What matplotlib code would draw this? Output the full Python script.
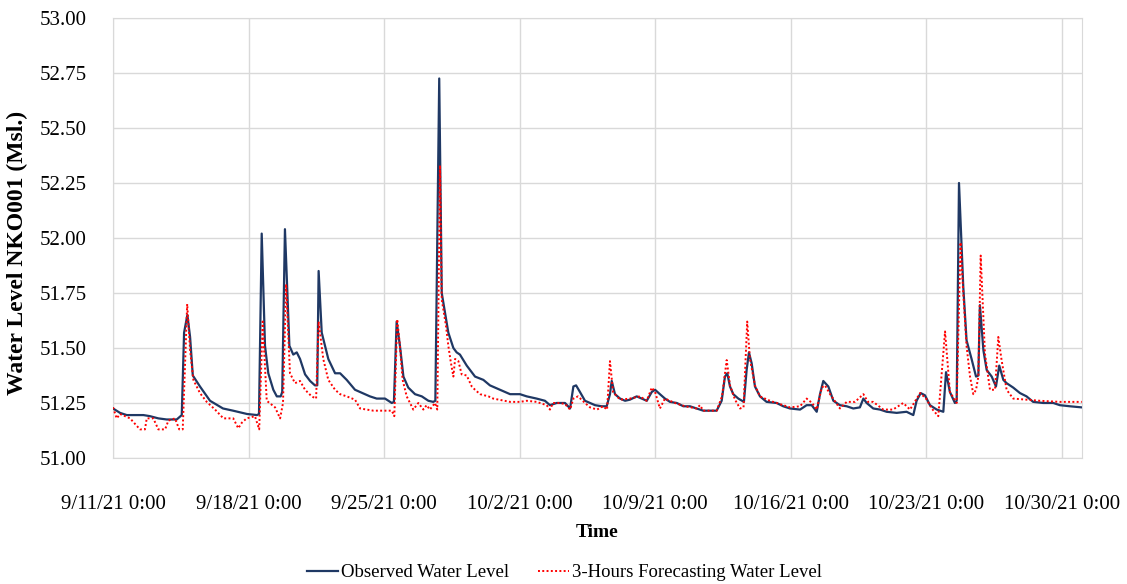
import matplotlib.pyplot as plt

plt.rcParams['font.family'] = ['Liberation Serif', 'DejaVu Serif']

# days since 9/11/21 0:00, water level (Msl.)
obs_days = [0.00, 0.36, 0.71, 1.05, 1.57, 1.91, 2.34, 2.77, 3.29, 3.55, 3.67, 3.84, 3.98, 4.12,
            4.49, 5.01, 5.68, 6.20, 6.92, 7.44, 7.54, 7.68, 7.85, 8.02, 8.28, 8.46, 8.66, 8.74,
            8.88, 9.11, 9.31, 9.49, 9.66, 9.92, 10.18, 10.43, 10.55, 10.62, 10.78, 11.12, 11.47,
            11.73, 12.07, 12.50, 12.76, 13.27, 13.62, 14.05, 14.40, 14.51, 14.65, 14.82, 15.00,
            15.25, 15.60, 15.95, 16.29, 16.54, 16.65, 16.85, 16.98, 17.15, 17.32, 17.58, 17.75,
            17.92, 18.27, 18.70, 19.13, 19.47, 19.99, 20.51, 21.02, 21.37, 21.88, 22.31, 22.57,
            22.92, 23.35, 23.61, 23.78, 23.92, 24.12, 24.38, 24.64, 24.90, 25.24, 25.50, 25.67,
            25.76, 25.93, 26.19, 26.45, 26.70, 27.05, 27.31, 27.57, 27.83, 28.00, 28.25, 28.51,
            28.77, 29.12, 29.46, 29.80, 30.15, 30.49, 30.84, 31.18, 31.44, 31.61, 31.73, 31.87,
            32.04, 32.30, 32.59, 32.73, 32.85, 32.99, 33.16, 33.42, 33.76, 34.28, 34.62, 34.97,
            35.49, 35.83, 36.09, 36.35, 36.52, 36.69, 36.95, 37.21, 37.55, 37.90, 38.24, 38.58,
            38.76, 38.93, 39.27, 39.62, 39.96, 40.48, 40.99, 41.34, 41.51, 41.72, 41.94, 42.20,
            42.55, 42.89, 43.03, 43.23, 43.49, 43.58, 43.70, 43.78, 43.92, 44.09, 44.35, 44.58,
            44.70, 44.78, 44.96, 45.13, 45.39, 45.61, 45.78, 45.99, 46.16, 46.50, 46.85, 47.19,
            47.53, 48.05, 48.57, 48.91, 49.43, 50.04]
obs_level = [51.225, 51.205, 51.195, 51.195, 51.195, 51.19, 51.18, 51.175, 51.175, 51.195, 51.57,
             51.65, 51.55, 51.375, 51.325, 51.26, 51.225, 51.215, 51.20, 51.195, 51.20, 52.02,
             51.51, 51.385, 51.31, 51.28, 51.28, 51.30, 52.04, 51.51, 51.47, 51.48, 51.45, 51.38,
             51.35, 51.33, 51.33, 51.85, 51.57, 51.45, 51.385, 51.385, 51.355, 51.31, 51.30,
             51.28, 51.27, 51.27, 51.25, 51.255, 51.62, 51.51, 51.37, 51.32, 51.29, 51.28, 51.26,
             51.255, 51.26, 52.725, 51.75, 51.66, 51.57, 51.50, 51.48, 51.47, 51.42, 51.37,
             51.355, 51.33, 51.31, 51.29, 51.29, 51.28, 51.27, 51.26, 51.24, 51.25, 51.25,
             51.225, 51.325, 51.33, 51.30, 51.26, 51.25, 51.24, 51.235, 51.235, 51.29, 51.35,
             51.29, 51.27, 51.26, 51.265, 51.28, 51.27, 51.26, 51.30, 51.31, 51.29, 51.27,
             51.255, 51.25, 51.235, 51.235, 51.225, 51.215, 51.215, 51.215, 51.26, 51.37,
             51.385, 51.325, 51.29, 51.27, 51.255, 51.40, 51.48, 51.43, 51.325, 51.28, 51.255,
             51.25, 51.235, 51.225, 51.22, 51.24, 51.24, 51.21, 51.29, 51.35, 51.325, 51.26,
             51.24, 51.235, 51.225, 51.23, 51.27, 51.25, 51.225, 51.22, 51.21, 51.205, 51.21,
             51.195, 51.26, 51.295, 51.285, 51.24, 51.22, 51.21, 51.39, 51.30, 51.25, 51.26,
             52.25, 52.08, 51.78, 51.535, 51.45, 51.37, 51.375, 51.695, 51.49, 51.40, 51.37,
             51.325, 51.42, 51.355, 51.34, 51.32, 51.295, 51.28, 51.255, 51.25, 51.25, 51.24,
             51.235, 51.23]

fc_days = [0.00, 0.19, 0.36, 0.88, 1.39, 1.65, 1.74, 2.08, 2.34, 2.69, 2.86, 3.20, 3.42, 3.60,
           3.83, 3.98, 4.15, 4.49, 4.84, 5.27, 5.70, 6.21, 6.47, 6.65, 6.90, 7.33, 7.55, 7.73,
           7.94, 8.37, 8.63, 8.78, 8.94, 9.14, 9.40, 9.66, 9.92, 10.26, 10.49, 10.62, 10.86,
           11.12, 11.47, 11.73, 12.07, 12.50, 12.76, 13.45, 13.96, 14.40, 14.53, 14.68, 14.82,
           14.96, 15.17, 15.34, 15.51, 15.77, 16.03, 16.20, 16.37, 16.63, 16.75, 16.89, 16.98,
           17.20, 17.32, 17.44, 17.58, 17.67, 17.84, 18.01, 18.27, 18.53, 18.70, 18.96, 19.39,
           19.64, 20.51, 21.02, 21.37, 21.88, 22.40, 22.57, 22.73, 23.09, 23.35, 23.61, 23.78,
           24.02, 24.38, 24.64, 25.00, 25.31, 25.52, 25.67, 25.83, 26.19, 26.70, 27.22, 27.57,
           27.83, 28.00, 28.25, 28.51, 29.03, 29.55, 30.15, 30.32, 30.49, 31.18, 31.46, 31.70,
           31.87, 32.13, 32.39, 32.57, 32.76, 32.90, 33.16, 33.42, 33.93, 34.45, 34.97, 35.49,
           35.83, 36.11, 36.35, 36.61, 36.78, 37.04, 37.55, 37.90, 38.33, 38.76, 39.00, 39.27,
           39.79, 40.29, 40.82, 41.17, 41.69, 42.00, 42.29, 42.63, 42.98, 43.23, 43.58, 43.78,
           43.92, 44.09, 44.27, 44.44, 44.58, 44.70, 44.82, 45.04, 45.30, 45.56, 45.73, 45.90,
           46.16, 46.50, 47.19, 47.88, 48.91, 50.04]
fc_level = [51.23, 51.18, 51.20, 51.18, 51.13, 51.13, 51.18, 51.18, 51.13, 51.13, 51.17, 51.18,
            51.13, 51.13, 51.70, 51.49, 51.355, 51.295, 51.255, 51.22, 51.18, 51.18, 51.135,
            51.16, 51.18, 51.19, 51.13, 51.62, 51.26, 51.23, 51.18, 51.25, 51.79, 51.385, 51.34,
            51.35, 51.31, 51.28, 51.27, 51.62, 51.45, 51.355, 51.31, 51.29, 51.28, 51.265,
            51.225, 51.215, 51.215, 51.215, 51.19, 51.63, 51.51, 51.355, 51.28, 51.25, 51.22,
            51.25, 51.22, 51.24, 51.22, 51.25, 51.22, 52.33, 51.72, 51.60, 51.51, 51.44, 51.37,
            51.45, 51.44, 51.38, 51.375, 51.325, 51.31, 51.29, 51.28, 51.27, 51.255, 51.255,
            51.26, 51.255, 51.24, 51.22, 51.25, 51.25, 51.245, 51.22, 51.27, 51.28, 51.25, 51.23,
            51.22, 51.235, 51.22, 51.44, 51.30, 51.265, 51.27, 51.28, 51.26, 51.32, 51.30,
            51.225, 51.27, 51.25, 51.235, 51.225, 51.24, 51.215, 51.215, 51.28, 51.445, 51.33,
            51.265, 51.225, 51.23, 51.62, 51.45, 51.33, 51.28, 51.26, 51.245, 51.23, 51.235,
            51.27, 51.25, 51.22, 51.32, 51.33, 51.29, 51.225, 51.255, 51.255, 51.29, 51.255,
            51.255, 51.22, 51.22, 51.25, 51.22, 51.295, 51.27, 51.225, 51.19, 51.575, 51.30,
            51.25, 51.98, 51.75, 51.51, 51.37, 51.29, 51.31, 51.37, 51.92, 51.475, 51.31, 51.31,
            51.55, 51.445, 51.31, 51.27, 51.265, 51.26, 51.255, 51.255]

tick_days = [0, 7, 14, 21, 28, 35, 42, 49]
tick_labels = ['9/11/21 0:00', '9/18/21 0:00', '9/25/21 0:00', '10/2/21 0:00',
               '10/9/21 0:00', '10/16/21 0:00', '10/23/21 0:00', '10/30/21 0:00']
y_ticks = [51.00, 51.25, 51.50, 51.75, 52.00, 52.25, 52.50, 52.75, 53.00]

fig = plt.figure(figsize=(11.27, 5.84), dpi=100)
ax = fig.add_axes([0.1003, 0.2158, 0.8597, 0.7534])

ax.plot(obs_days, obs_level, color='#1f3864', linewidth=1.6, label='Observed Water Level', zorder=3)
ax.plot(fc_days, fc_level, color='#ff0000', linewidth=1.4, linestyle=(0, (1, 1.2)),
        label='3-Hours Forecasting Water Level', zorder=4)

ax.set_xlim(0, 50.05)
ax.set_ylim(51.0, 53.0)
ax.set_xticks(tick_days)
ax.set_xticklabels(tick_labels)
ax.set_yticks(y_ticks)
ax.set_yticklabels([f'{v:.2f}' for v in y_ticks])
ax.tick_params(length=0, labelsize=15)
ax.tick_params(axis='x', pad=27)
ax.tick_params(axis='y', pad=19)
ax.grid(color='#d9d9d9', linewidth=1.0)
ax.set_axisbelow(True)
for s in ax.spines.values():
    s.set_color('#d9d9d9')

ax.set_xlabel('Time', fontsize=14, fontweight='bold', labelpad=7)
ax.set_ylabel('Water Level NKO001 (Msl.)', fontsize=17, fontweight='bold')
ax.yaxis.set_label_coords(-0.088, 0.465)

fig.legend(loc='center', bbox_to_anchor=(0.501, 0.019), ncol=2, frameon=False,
           fontsize=13.5, handlelength=1.65, columnspacing=1.55, handletextpad=0.15)

fig.savefig('out.png', dpi=100)
